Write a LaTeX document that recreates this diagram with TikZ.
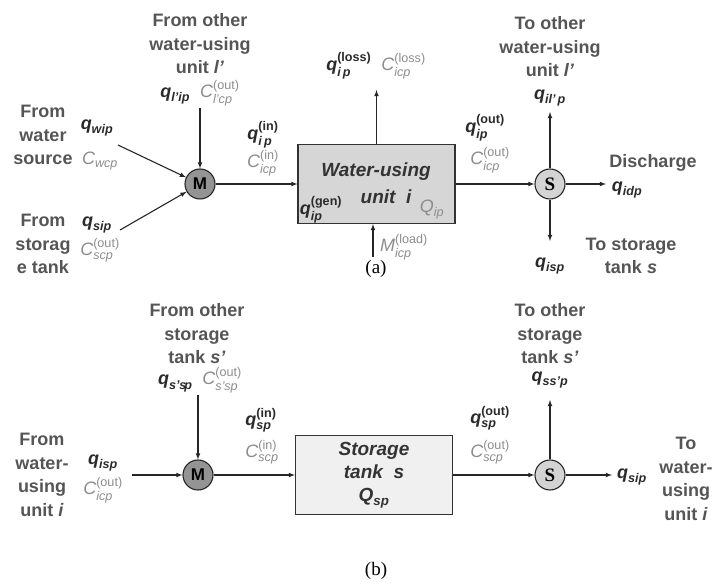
\documentclass[tikz,border=0pt]{standalone}
\usepackage{amsmath}
\usepackage{fontspec}
\setmainfont{Liberation Sans}
\newfontfamily\timesfont{Liberation Serif}
\usetikzlibrary{arrows, positioning}
\tikzset{>=latex}

\definecolor{txtgray}{HTML}{555555}
\definecolor{cgray}{HTML}{8C8C8C}
\definecolor{qdark}{HTML}{2A2A2A}

% flow rate and concentration symbols
\newcommand{\qf}[2]{{\color{qdark}$\text{\bfseries\itshape q}\if\relax\detokenize{#2}\relax\else^{\text{\bfseries #2}}\fi_{\text{\bfseries\itshape #1}}$}}
\newcommand{\cf}[2]{{\color{cgray}$\text{\itshape C}\if\relax\detokenize{#2}\relax\else^{\text{#2}}\fi_{\text{\itshape #1}}$}}

\tikzset{
  lbl/.style={font=\bfseries\fontsize{18}{23.5}\selectfont, text=txtgray, align=center, inner sep=1pt},
  var/.style={font=\fontsize{18}{20}\selectfont, inner sep=1pt},
  mixer/.style={circle, draw=black!85, line width=1.1pt, fill=black!42, minimum size=30pt, inner sep=0pt, font=\bfseries\fontsize{17}{17}\selectfont},
  splitter/.style={circle, draw=black!85, line width=1.1pt, fill=black!17, minimum size=30pt, inner sep=0pt, font=\timesfont\bfseries\fontsize{19}{19}\selectfont},
  unitbox/.style={draw=black!80, line width=1.1pt, minimum width=157pt, minimum height=79pt},
  flow/.style={->, line width=1.1pt, black!85}
}

\begin{document}
\begin{tikzpicture}[x=1pt, y=-1pt]
\useasboundingbox (0,0) rectangle (716,585);

% ---- (a) water-using unit
\node[mixer] (Ma) at (200,184) {M};
\node[unitbox, fill=black!16] (unitA) at (376.5,184) {};
\node[splitter] (Sa) at (550,184) {S};

\node[font=\bfseries\itshape\fontsize{19}{19}\selectfont, text=black!80] (unitname) at (376,172) {Water-using};
\node[font=\bfseries\itshape\fontsize{19}{19}\selectfont, text=black!80] (unitnum) at (386,197) {unit\ \ i};
\node[var] (qgen) at (321,210) {\qf{ip}{(gen)}};
\node[var] (Qip) at (432,210) {\color{cgray}$\text{\itshape Q}_{\text{\itshape ip}}$};

\coordinate (wsrc) at (118,145);
\coordinate (stsrc) at (120,230);
\coordinate (uin) at (200,108);
\coordinate (loss) at (376.5,90);
\coordinate (load) at (373,257);
\coordinate (dis) at (606,184);
\coordinate (uout) at (550,112);
\coordinate (sout) at (550,241);

\draw[flow] (wsrc) -- (Ma);
\draw[flow] (stsrc) -- (Ma);
\draw[flow] (uin) -- (Ma);
\draw[flow] (Ma) -- (unitA);
\draw[flow] (unitA) -- (Sa);
\draw[flow] (unitA.north) -- (loss);
\draw[flow] (load) -- (load |- unitA.south);
\draw[flow] (Sa) -- (dis);
\draw[flow] (Sa) -- (uout);
\draw[flow] (Sa) -- (sout);

\node[lbl] (fromunit) at (200,44) {From other\\water-using\\unit \textit{l'}};
\node[var] (qlip) at (200,93) {\qf{l'ip}{}\ \ \cf{l'cp}{(out)}};
\node[lbl] (fromsrc) at (43,135) {From\\water\\source};
\node[var] (qwip) at (97,128) {\qf{wip}{}};
\node[var] (cwcp) at (100,161) {\cf{wcp}{}};
\node[lbl] (fromtank) at (43,244) {From\\storag\\e tank};
\node[var] (qsip) at (97,225) {\qf{sip}{}};
\node[var] (cscp) at (100,250) {\cf{scp}{(out)}};
\node[var] (qin) at (263,135) {\qf{i\,p}{(in)}};
\node[var] (cin) at (263,163) {\cf{icp}{(in)}};
\node[var] (qloss) at (376,66) {\qf{i\,p}{(loss)}\ \ \cf{icp}{(loss)}};
\node[var] (mload) at (404,247) {\color{cgray}$\text{\itshape M}^{\text{(load)}}_{\text{\itshape icp}}$};
\node[var] (qout) at (485,128) {\qf{ip}{(out)}};
\node[var] (cout) at (490,160) {\cf{icp}{(out)}};
\node[lbl] (tounit) at (550,47) {To other\\water-using\\unit \textit{l'}};
\node[var] (qilp) at (550,98) {\qf{il'\,p}{}};
\node[lbl] (disch) at (653,163) {Discharge};
\node[var] (qidp) at (627,190) {\qf{idp}{}};
\node[var] (qisp) at (550,266) {\qf{isp}{}};
\node[lbl] (totank) at (631,256) {To storage\\tank \textit{s}};
\node[font=\timesfont\fontsize{19}{19}\selectfont] (capa) at (376,269) {(a)};

% ---- (b) storage tank
\node[mixer] (Mb) at (198,475) {M};
\node[unitbox, fill=black!6, font=\bfseries\itshape\fontsize{19}{23}\selectfont, text=black!80, align=center] (tankB) at (374,475) {Storage\\tank\ \ s\\{\mdseries\upshape\color{black!80}$\text{\bfseries\itshape Q}_{\text{\bfseries\itshape sp}}$}};
\node[splitter] (Sb) at (550,475) {S};

\coordinate (tin) at (198,395);
\coordinate (uinb) at (132,475);
\coordinate (toutb) at (550,400);
\coordinate (uoutb) at (612,475);

\draw[flow] (tin) -- (Mb);
\draw[flow] (uinb) -- (Mb);
\draw[flow] (Mb) -- (tankB);
\draw[flow] (tankB) -- (Sb);
\draw[flow] (Sb) -- (toutb);
\draw[flow] (Sb) -- (uoutb);

\node[lbl] (fromtankb) at (197,334) {From other\\storage\\tank \textit{s'}};
\node[var] (qssp) at (200,380) {\qf{s's\!p}{}\ \ \cf{s'sp}{(out)}};
\node[lbl] (fromunitb) at (42,475) {From\\water-\\using\\unit \textit{i}};
\node[var] (qispb) at (103,463) {\qf{isp}{}};
\node[var] (cicpb) at (103,490) {\cf{icp}{(out)}};
\node[var] (qinb) at (261,420) {\qf{sp}{(in)}};
\node[var] (cinb) at (262,452) {\cf{scp}{(in)}};
\node[var] (qoutb) at (490,418) {\qf{sp}{(out)}};
\node[var] (coutb) at (490,452) {\cf{scp}{(out)}};
\node[lbl] (totankb) at (550,334) {To other\\storage\\tank \textit{s'}};
\node[var] (qsspb) at (550,380) {\qf{ss'p}{}};
\node[var] (qsipb) at (632,477) {\qf{sip}{}};
\node[lbl] (tounitb) at (686,479) {To\\water-\\using\\unit \textit{i}};
\node[font=\timesfont\fontsize{19}{19}\selectfont] (capb) at (376,571) {(b)};
\end{tikzpicture}
\end{document}
